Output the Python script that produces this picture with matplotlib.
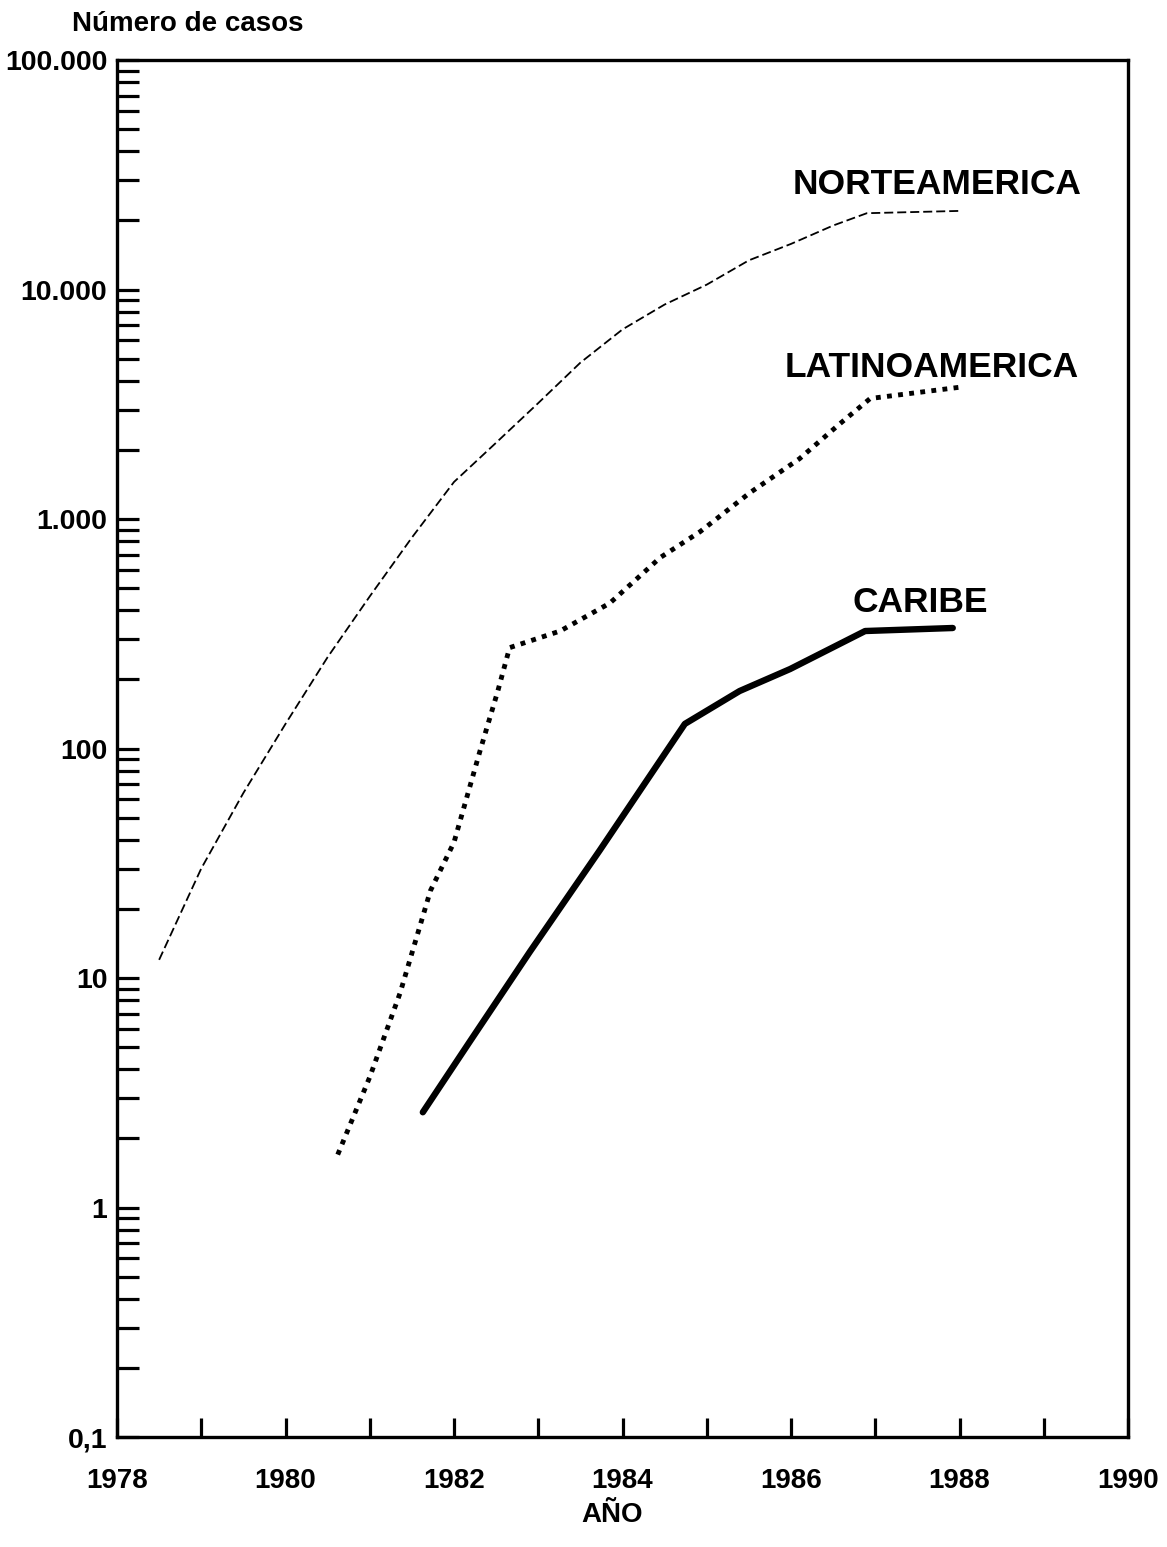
import matplotlib
matplotlib.use("Agg")
import matplotlib.pyplot as plt
from matplotlib.ticker import FixedLocator, FixedFormatter, NullFormatter

plt.rcParams['font.family'] = ['Liberation Sans', 'DejaVu Sans']
plt.rcParams['font.weight'] = 'bold'

# Numero de casos por region
na_years = [1978.5, 1979.0, 1979.5, 1980.0, 1980.5, 1981.0, 1981.5, 1982.0,
            1982.5, 1983.0, 1983.5, 1984.0, 1984.5, 1985.0, 1985.5, 1986.0,
            1986.5, 1986.9, 1988.0]
na_cases = [12, 30, 64, 128, 250, 460, 830, 1450,
            2150, 3200, 4800, 6700, 8600, 10500, 13400, 15800,
            19000, 21500, 22000]

la_years = [1980.62, 1981.0, 1981.36, 1981.72, 1982.0, 1982.31, 1982.52,
            1982.66, 1983.26, 1983.85, 1984.45, 1984.92, 1985.51, 1986.1,
            1986.58, 1986.94, 1988.0]
la_cases = [1.7, 3.7, 8.6, 24, 39, 98, 178,
            275, 325, 430, 680, 880, 1300, 1830,
            2600, 3350, 3750]

ca_years = [1981.63, 1982.19, 1982.9, 1983.73, 1984.74, 1985.39, 1985.99,
            1986.88, 1987.92]
ca_cases = [2.6, 5.3, 13, 36, 128, 178, 222, 325, 335]

y_ticks = [0.1, 1, 10, 100, 1000, 10000, 100000]
y_labels = ["0,1", "1", "10", "100", "1.000", "10.000", "100.000"]
x_ticks = list(range(1978, 1991))
x_labels = [str(y) if y % 2 == 0 else "" for y in x_ticks]

fig = plt.figure(figsize=(11.67, 15.47), dpi=100)
W, H = 1167.0, 1547.0
ax = fig.add_axes([117 / W, 1 - 1437 / H, (1128 - 117) / W, (1437 - 60) / H])

ax.plot(na_years, na_cases, color="black", linewidth=1.3,
        linestyle=(0, (5, 2.2)))
ax.plot(la_years, la_cases, color="black", linewidth=3.5,
        linestyle=(0, (1.0, 1.3)), dash_capstyle="butt")
ax.plot(ca_years, ca_cases, color="black", linewidth=4.6,
        solid_capstyle="round", solid_joinstyle="round")

ax.set_yscale("log")
ax.set_xlim(1978, 1990)
ax.set_ylim(0.1, 100000)

ax.yaxis.set_major_locator(FixedLocator(y_ticks))
ax.yaxis.set_major_formatter(FixedFormatter(y_labels))
minor = [m * 10.0 ** k for k in range(-1, 5) for m in range(2, 10)]
ax.yaxis.set_minor_locator(FixedLocator(minor))
ax.yaxis.set_minor_formatter(NullFormatter())

ax.xaxis.set_major_locator(FixedLocator(x_ticks))
ax.xaxis.set_major_formatter(FixedFormatter(x_labels))

ax.tick_params(axis="y", which="both", direction="in", length=16, width=2.3,
               labelsize=20.5, pad=7)
ax.tick_params(axis="x", which="major", direction="in", length=14, width=2.3,
               labelsize=20, pad=22)

for s in ax.spines.values():
    s.set_linewidth(2.4)

fig.text(72 / W, 1 - 31 / H, "Número de casos", fontsize=20,
         fontweight="bold", ha="left", va="baseline")
fig.text(612 / W, 1 - 1522 / H, "AÑO", fontsize=20,
         fontweight="bold", ha="center", va="baseline")

# etiquetas de las series
fig.text(793 / W, 1 - 194 / H, "NORTEAMERICA", fontsize=25.5,
         fontweight="bold", ha="left", va="baseline")
fig.text(785 / W, 1 - 377 / H, "LATINOAMERICA", fontsize=25.5,
         fontweight="bold", ha="left", va="baseline")
fig.text(853 / W, 1 - 612 / H, "CARIBE", fontsize=25.5,
         fontweight="bold", ha="left", va="baseline")

fig.savefig("out.png", dpi=100)
